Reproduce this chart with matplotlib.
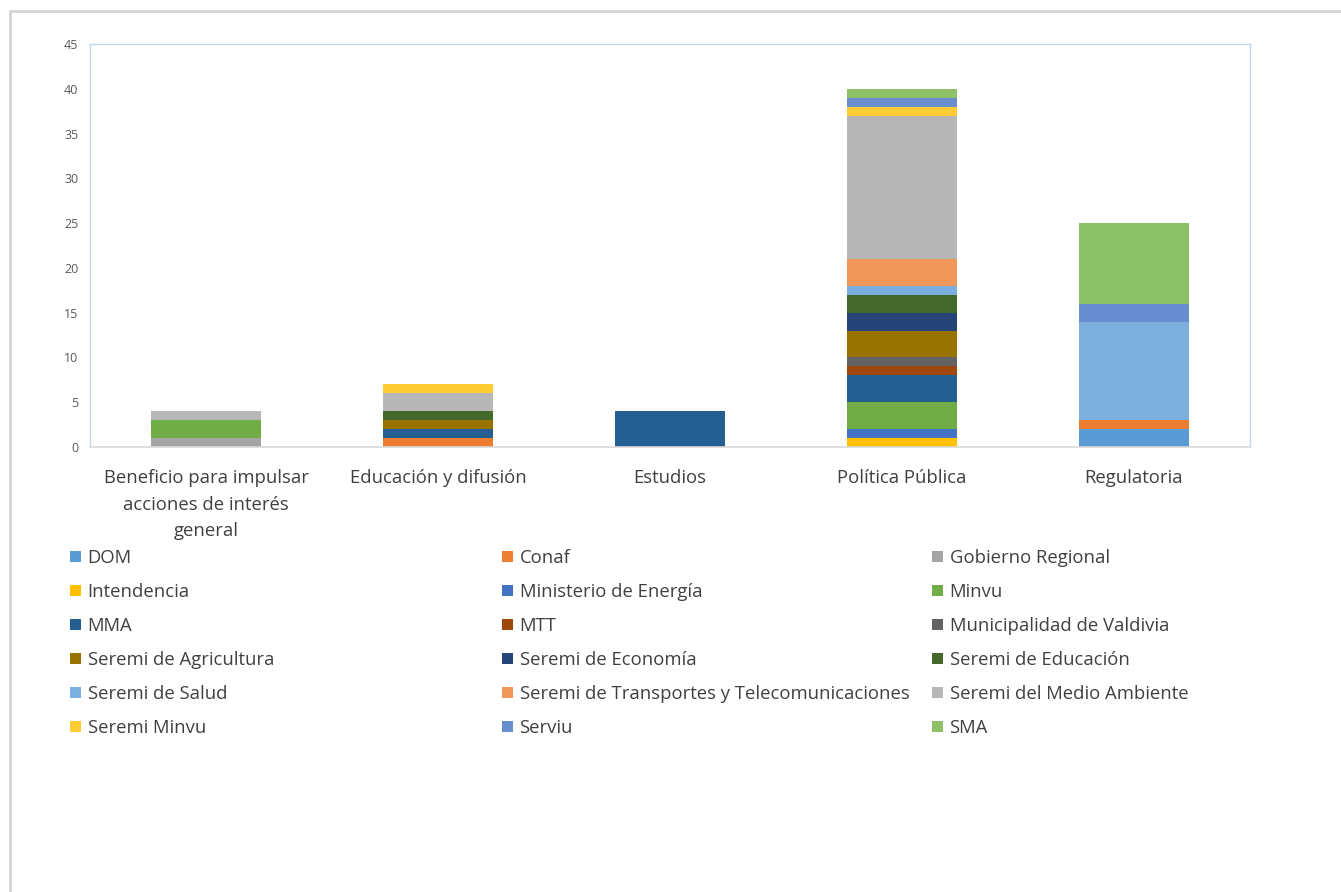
import matplotlib
matplotlib.use("Agg")
import matplotlib.pyplot as plt
from matplotlib.patches import Rectangle, Patch
import numpy as np

plt.rcParams['font.family'] = ['Open Sans', 'DejaVu Sans']

categories = ["Beneficio para impulsar\nacciones de interés\ngeneral",
              "Educación y difusión", "Estudios", "Política Pública", "Regulatoria"]

series = ["DOM", "Conaf", "Gobierno Regional", "Intendencia", "Ministerio de Energía",
          "Minvu", "MMA", "MTT", "Municipalidad de Valdivia", "Seremi de Agricultura",
          "Seremi de Economía", "Seremi de Educación", "Seremi de Salud",
          "Seremi de Transportes y Telecomunicaciones", "Seremi del Medio Ambiente",
          "Seremi Minvu", "Serviu", "SMA"]

# values per series across categories
DOM = [0, 0, 0, 0, 2]
Conaf = [0, 1, 0, 0, 1]
Gobierno_Regional = [1, 0, 0, 0, 0]
Intendencia = [0, 0, 0, 1, 0]
Ministerio_Energia = [0, 0, 0, 1, 0]
Minvu = [2, 0, 0, 3, 0]
MMA = [0, 1, 4, 3, 0]
MTT = [0, 0, 0, 1, 0]
Municipalidad_Valdivia = [0, 0, 0, 1, 0]
Seremi_Agricultura = [0, 1, 0, 3, 0]
Seremi_Economia = [0, 0, 0, 2, 0]
Seremi_Educacion = [0, 1, 0, 2, 0]
Seremi_Salud = [0, 0, 0, 1, 11]
Seremi_Transportes = [0, 0, 0, 3, 0]
Seremi_Medio_Ambiente = [1, 2, 0, 16, 0]
Seremi_Minvu = [0, 1, 0, 1, 0]
Serviu = [0, 0, 0, 1, 2]
SMA = [0, 0, 0, 1, 9]

values = [DOM, Conaf, Gobierno_Regional, Intendencia, Ministerio_Energia, Minvu, MMA,
          MTT, Municipalidad_Valdivia, Seremi_Agricultura, Seremi_Economia,
          Seremi_Educacion, Seremi_Salud, Seremi_Transportes, Seremi_Medio_Ambiente,
          Seremi_Minvu, Serviu, SMA]

colors = ["#5B9BD5", "#ED7D31", "#A5A5A5", "#FFC000", "#4472C4", "#70AD47",
          "#255E91", "#9E480E", "#636363", "#997300", "#264478", "#43682B",
          "#7CAFDD", "#F1975A", "#B7B7B7", "#FFCD33", "#698ED0", "#8CC168"]

W, H = 1341, 892
fig = plt.figure(figsize=(W / 100, H / 100), dpi=100)

# outer frame
fig.patches.append(Rectangle((10 / W, -0.05), 1.1, 1 - 11 / H + 0.05,
                             transform=fig.transFigure, fill=False,
                             edgecolor="#D4D4D4", linewidth=2))

ax = fig.add_axes([90 / W, 1 - 447 / H, 1160 / W, 403 / H])
x = np.arange(len(categories))
bottom = np.zeros(len(categories))
handles = []
for name, vals, c in zip(series, values, colors):
    v = np.array(vals, dtype=float)
    ax.bar(x, v, 0.47, bottom=bottom, color=c, edgecolor="none", label=name)
    bottom += v
    handles.append(Patch(facecolor=c, edgecolor="none", label=name))

ax.set_xlim(-0.5, len(categories) - 0.5)
ax.set_ylim(0, 45)
ax.set_yticks(range(0, 46, 5))
ax.set_xticks(x)
ax.set_xticklabels(categories, fontsize=13.3, color="#404040", linespacing=1.6)
ax.tick_params(axis='y', labelsize=9, labelcolor="#595959", length=0, pad=8.5)
ax.tick_params(axis='x', length=0, pad=16)
for s in ['left', 'top', 'right']:
    ax.spines[s].set_color("#BDD7EE")
    ax.spines[s].set_linewidth(1)
ax.spines['bottom'].set_color("#D9D9D9")
ax.spines['bottom'].set_linewidth(1.2)

# legend: three columns, row-major order
col_x = [70, 502, 932]
for col in range(3):
    hs = [handles[i] for i in range(col, 18, 3)]
    fig.legend(handles=hs, loc='upper left',
               bbox_to_anchor=(col_x[col] / W, 1 - 549 / H),
               frameon=False, fontsize=13.3, handlelength=0.6, handleheight=0.6,
               handletextpad=0.35, labelspacing=0.865, borderaxespad=0,
               borderpad=0, labelcolor="#404040")

fig.savefig("out.png", dpi=100)
